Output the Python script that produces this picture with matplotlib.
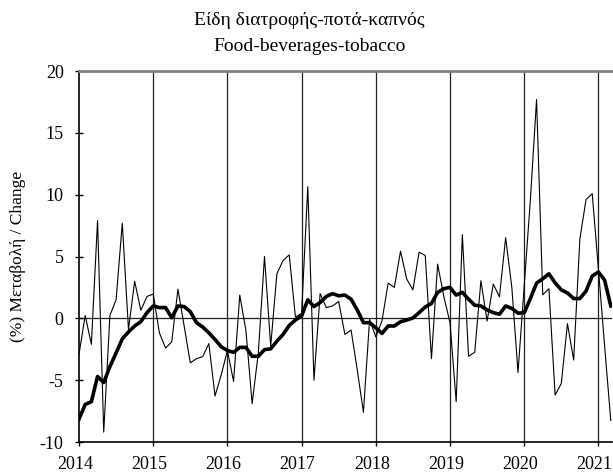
import numpy as np
import matplotlib
matplotlib.use("Agg")
import matplotlib.pyplot as plt
from matplotlib.transforms import ScaledTranslation

# monthly change, Jan 2014 - Mar 2021
monthly = [
    -2.93, 0.24, -2.1, 7.9, -9.2, 0.24, 1.5, 7.7, -0.9, 3.0, 0.65, 1.77,
    1.96, -1.17, -2.4, -1.9, 2.36, -0.6, -3.6, -3.26, -3.1, -2.04, -6.28, -4.57,
    -2.6, -5.1, 1.88, -1.0, -6.9, -2.8, 5.0, -2.26, 3.6, 4.67, 5.13, 0.1,
    0.4, 10.65, -5.0, 2.0, 0.87, 1.0, 1.36, -1.3, -0.95, -4.16, -7.6, -0.08,
    -1.5, -0.2, 2.85, 2.5, 5.43, 3.18, 2.3, 5.35, 5.08, -3.26, 4.38, 1.77,
    -0.35, -6.74, 6.77, -3.07, -2.74, 3.04, -0.22, 2.77, 1.74, 6.52, 2.5, -4.38,
    2.6, 9.6, 17.7, 1.9, 2.4, -6.2, -5.27, -0.43, -3.37, 6.4, 9.6, 10.08,
    4.0, -2.2, -8.26,
]

# smoothed series (thick line)
smoothed = [
    -8.15, -6.96, -6.74, -4.7, -5.19, -3.9, -2.8, -1.66, -1.1, -0.62, -0.27, 0.46,
    1.0, 0.87, 0.87, 0.05, 1.0, 0.95, 0.54, -0.35, -0.7, -1.17, -1.71, -2.3,
    -2.6, -2.75, -2.35, -2.35, -3.07, -3.07, -2.53, -2.47, -1.85, -1.3, -0.57, -0.14,
    0.19, 1.5, 0.95, 1.28, 1.77, 2.0, 1.82, 1.88, 1.55, 0.68, -0.35, -0.35,
    -0.76, -1.22, -0.62, -0.62, -0.27, -0.14, 0.03, 0.46, 0.92, 1.2, 2.1, 2.4,
    2.5, 1.88, 2.1, 1.55, 1.06, 1.0, 0.68, 0.46, 0.33, 1.0, 0.8, 0.42,
    0.45, 1.6, 2.85, 3.2, 3.6, 2.87, 2.3, 2.05, 1.6, 1.6, 2.2, 3.42,
    3.74, 3.1, 1.0,
]

years = [2014, 2015, 2016, 2017, 2018, 2019, 2020, 2021]
y_ticks = [-10, -5, 0, 5, 10, 15, 20]

plt.rcParams['font.family'] = ['Liberation Serif', 'DejaVu Serif']

fig = plt.figure(figsize=(6.13, 4.73), dpi=100)
ax = fig.add_axes([79 / 613, 31 / 473, 533 / 613, 371 / 473])

x = np.arange(len(monthly))
year_pos = [12 * i for i in range(len(years))]

# year separators and zero line
for xp in year_pos[1:]:
    ax.axvline(xp, color='#202020', linewidth=0.9, zorder=1)
ax.axhline(0, color='#202020', linewidth=0.9, zorder=1)

ax.plot(x, monthly, color='black', linewidth=0.8, zorder=3)
ax.plot(x, smoothed, color='black', linewidth=2.6, zorder=4)

ax.set_xlim(0, 86.2)
ax.set_ylim(-10, 20)
ax.set_yticks(y_ticks)
ax.set_yticklabels([str(v) for v in y_ticks])
ax.set_xticks(year_pos)
ax.set_xticklabels([str(y) for y in years])

ax.tick_params(axis='y', direction='inout', length=6, width=1, pad=8, labelsize=13)
ax.tick_params(axis='x', direction='out', length=3, width=1, pad=7, labelsize=13)

# labels sit a little left of the year lines, as in the original
shift = ScaledTranslation(-4 / 100, 0, fig.dpi_scale_trans)
for lbl in ax.get_xticklabels():
    lbl.set_transform(lbl.get_transform() + shift)

ax.spines['right'].set_visible(False)
ax.spines['top'].set_color('#808080')
ax.spines['top'].set_linewidth(2)
ax.spines['left'].set_linewidth(1.2)
ax.spines['bottom'].set_linewidth(1.2)

ax.set_ylabel('(%) Μεταβολή / Change', fontsize=12.5, labelpad=10)

fig.text(0.505, 0.957, 'Είδη διατροφής-ποτά-καπνός', ha='center', va='center', fontsize=14)
fig.text(0.505, 0.902, 'Food-beverages-tobacco', ha='center', va='center', fontsize=14)

fig.savefig('out.png', dpi=100)
plt.close(fig)
